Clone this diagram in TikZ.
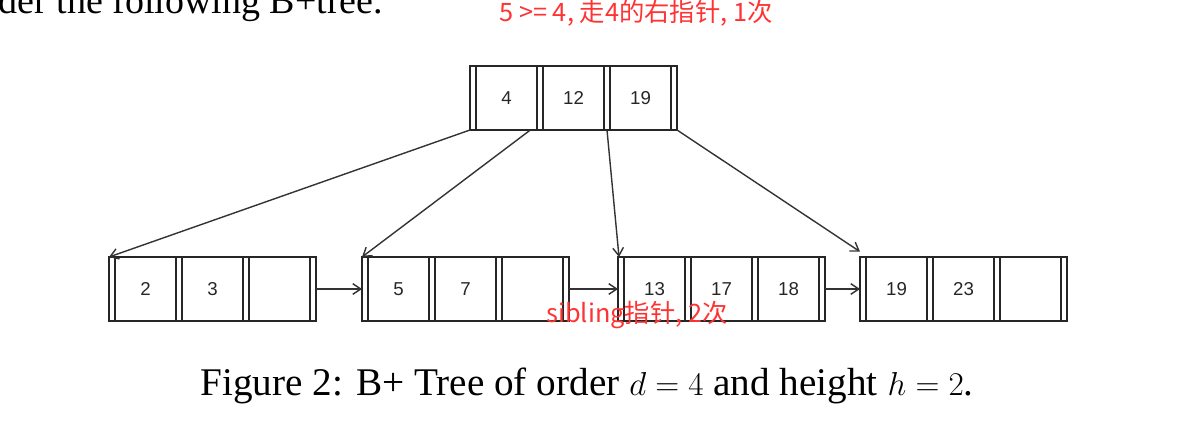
\documentclass[tikz,border=0pt]{standalone}
\usepackage{fontspec}
\setmainfont{Liberation Serif}
\newfontfamily\keyfont{Liberation Sans}
\newfontfamily\cjk{Noto Sans CJK SC}
\usetikzlibrary{positioning,arrows.meta}
\definecolor{notered}{HTML}{FF3333}

% one B+ tree node: slot, key, slot, key, slot, key, slot
\newcommand\bpnode[6]{%
  \node[slot,anchor=west] (#1-s0) at (#2,#3) {};
  \node[keycell,right=0pt of #1-s0] (#1-k1) {#4};
  \node[slot,right=0pt of #1-k1] (#1-s1) {};
  \node[keycell,right=0pt of #1-s1] (#1-k2) {#5};
  \node[slot,right=0pt of #1-k2] (#1-s2) {};
  \node[keycell,right=0pt of #1-s2] (#1-k3) {#6};
  \node[slot,right=0pt of #1-k3] (#1-s3) {};
}

\begin{document}
\begin{tikzpicture}[x=0.75pt,y=-0.75pt]
        \tikzstyle{every node}=[inner sep=0pt, outer sep=0pt]
        \tikzstyle{slot}=[draw=black!85, line width=1pt, minimum width=4.5pt, minimum height=48pt]
        \tikzstyle{keycell}=[draw=black!85, line width=1pt, minimum width=45.75pt, minimum height=48pt, font=\keyfont\fontsize{14}{16}\selectfont, text=black!85]
        \tikzstyle{ptr}=[draw=black!80, line width=1.05pt, -{Straight Barb[length=6pt,width=8pt]}]
        \tikzstyle{note}=[text=notered, font=\cjk\fontsize{19}{21}\selectfont]
        \clip (0,0) rectangle (1180,424);
        \bpnode{top}{470}{98}{4}{12}{19}
        \bpnode{la}{109}{289}{2}{3}{}
        \bpnode{lb}{362}{289}{5}{7}{}
        \bpnode{lc}{618}{289}{13}{17}{18}
        \bpnode{ld}{860}{289}{19}{23}{}
        \draw[ptr] (top-s0.south west) -- (la-s0.north west);
        \draw[ptr] ([xshift=-5pt]top-k1.south east) -- (lb-s0.north west);
        \draw[ptr] (top-s2.south) -- ([xshift=-1.5pt]lc-s0.north);
        \draw[ptr] (top-s3.south east) -- ([yshift=4pt]ld-s0.north west);
        \draw[ptr] (la-s3.east) -- (lb-s0.west);
        \draw[ptr] (lb-s3.east) -- (lc-s0.west);
        \draw[ptr] (lc-s3.east) -- (ld-s0.west);
        \node[note] (toplabel) at (636,13) {5 >= 4, 走4的右指针, 1次};
        \node[note] (siblabel) at (637,315) {sibling指针, 2次};
        \node[anchor=base east, font=\fontsize{28.5}{32}\selectfont] (intro) at (383,14) {der the following B+tree.};
        \node[font=\fontsize{29.4}{34}\selectfont] (caption) at (587,386) {Figure 2: B+ Tree of order $d=4$ and height $h=2$.};
\end{tikzpicture}
\end{document}
